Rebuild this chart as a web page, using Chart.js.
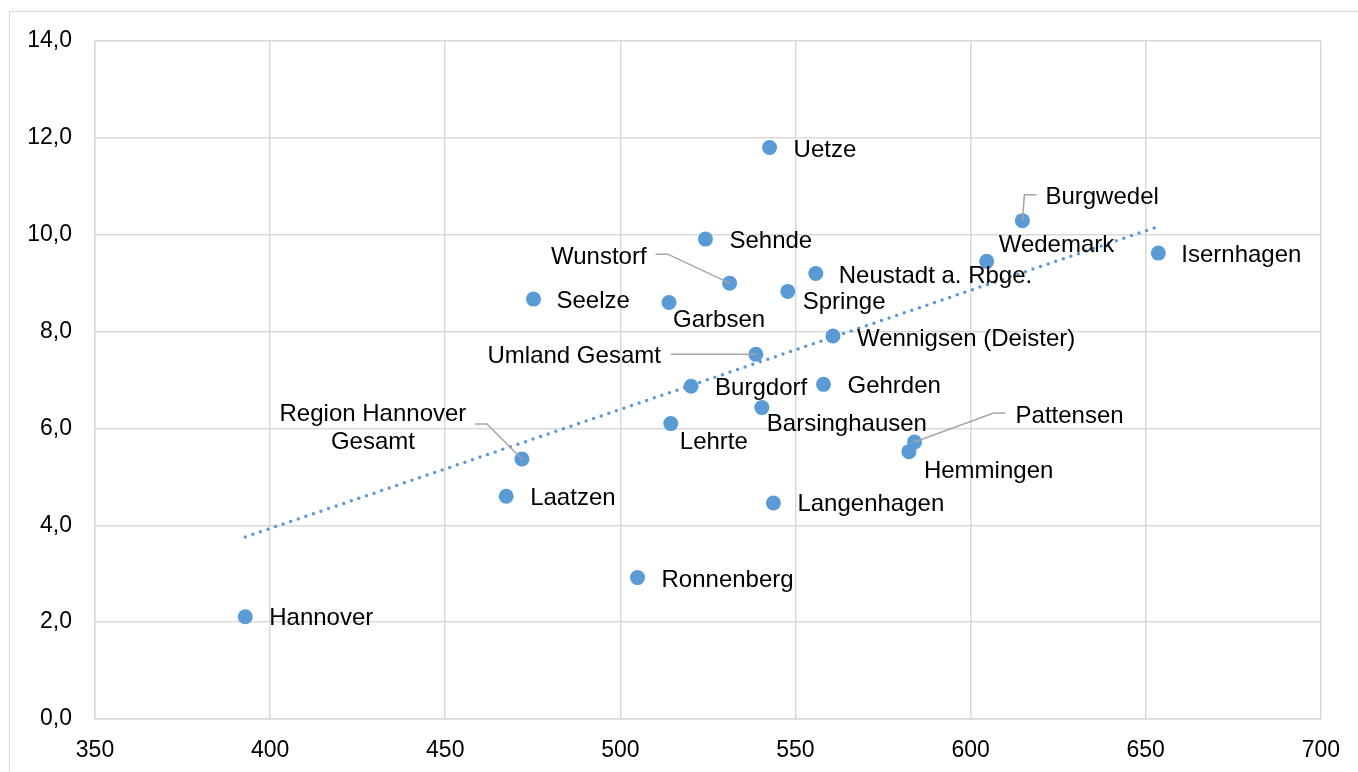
<!DOCTYPE html>
<html>
<head>
<meta charset="utf-8">
<script src="https://cdn.jsdelivr.net/npm/chart.js@4.4.1/dist/chart.umd.min.js"></script>
<style>
  html, body { margin: 0; padding: 0; background: #fff; overflow: hidden; }
  #wrap { position: relative; width: 1358px; height: 772px; }
  #frame { position: absolute; left: 9px; top: 11px; width: 1400px; height: 800px; border: 1px solid #d9d9d9; box-sizing: border-box; }
  canvas { position: absolute; left: 0; top: 0; }
</style>
</head>
<body>
<div id="wrap">
  <div id="frame"></div>
  <canvas id="chart" width="1358" height="772"></canvas>
</div>
<script>
// Gemeinden der Region Hannover
const places = [
  'Hannover', 'Ronnenberg', 'Laatzen', 'Region Hannover Gesamt', 'Langenhagen',
  'Lehrte', 'Burgdorf', 'Barsinghausen', 'Gehrden', 'Umland Gesamt',
  'Wennigsen (Deister)', 'Hemmingen', 'Pattensen', 'Seelze', 'Garbsen',
  'Wunstorf', 'Springe', 'Neustadt a. Rbge.', 'Sehnde', 'Uetze',
  'Wedemark', 'Burgwedel', 'Isernhagen'
];
const xValues = [
  392.9, 504.9, 467.4, 471.9, 543.7,
  514.4, 520.2, 540.4, 558.0, 538.7,
  560.7, 582.4, 584.0, 475.2, 513.9,
  531.2, 547.8, 555.8, 524.3, 542.6,
  604.6, 614.8, 653.6
];
const yValues = [
  2.11, 2.92, 4.60, 5.37, 4.46,
  6.10, 6.87, 6.43, 6.91, 7.53,
  7.91, 5.52, 5.72, 8.67, 8.60,
  9.00, 8.83, 9.20, 9.91, 11.80,
  9.45, 10.29, 9.62
];
// linearer Trend (Endpunkte)
const trendX = [392.9, 653.6];
const trendY = [3.76, 10.17];

// label placement relative to the point (px); leader = polyline back to the point
const placement = {
  'Hannover':               { dx: 24, dy: 0 },
  'Ronnenberg':             { dx: 24, dy: 1 },
  'Laatzen':                { dx: 24, dy: 1 },
  'Region Hannover Gesamt': { dx: -149, dy: -46, align: 'center', wrap: true,
                              leader: [[-47, -35], [-35, -35], [0, 0]] },
  'Langenhagen':            { dx: 24, dy: 0 },
  'Lehrte':                 { dx: 9, dy: 17 },
  'Burgdorf':               { dx: 24, dy: 1 },
  'Barsinghausen':          { dx: 5, dy: 15 },
  'Gehrden':                { dx: 24, dy: 1 },
  'Umland Gesamt':          { dx: -95, dy: 1, align: 'right',
                              leader: [[-85, 0], [0, 0]] },
  'Wennigsen (Deister)':    { dx: 24, dy: 2 },
  'Hemmingen':              { dx: 15, dy: 18 },
  'Pattensen':              { dx: 101, dy: -27,
                              leader: [[91, -29], [79, -29], [0, 0]] },
  'Seelze':                 { dx: 23, dy: 1 },
  'Garbsen':                { dx: 4, dy: 16 },
  'Wunstorf':               { dx: -83, dy: -27, align: 'right',
                              leader: [[-74, -29], [-62, -29], [0, 0]] },
  'Springe':                { dx: 15, dy: 9 },
  'Neustadt a. Rbge.':      { dx: 23, dy: 1 },
  'Sehnde':                 { dx: 24, dy: 1 },
  'Uetze':                  { dx: 24, dy: 1 },
  'Wedemark':               { dx: 12, dy: -17 },
  'Burgwedel':              { dx: 23, dy: -25,
                              leader: [[14, -26], [2, -26], [0, 0]] },
  'Isernhagen':             { dx: 23, dy: 1 },
};

const FONT = "'Liberation Sans', Arial, sans-serif";
const BLUE = '#5b9bd5';
const GRID = '#d9d9d9';

const pointLabels = {
  id: 'pointLabels',
  afterDatasetsDraw(chart) {
    const ctx = chart.ctx;
    const meta = chart.getDatasetMeta(0);
    ctx.save();
    ctx.font = `24px ${FONT}`;
    ctx.fillStyle = '#000';
    ctx.textBaseline = 'middle';
    meta.data.forEach((pt, i) => {
      const p = placement[places[i]];
      if (!p) return;
      if (p.leader) {
        ctx.beginPath();
        ctx.strokeStyle = '#a6a6a6';
        ctx.lineWidth = 1.5;
        p.leader.forEach(([lx, ly], k) => {
          if (k === 0) ctx.moveTo(pt.x + lx, pt.y + ly);
          else ctx.lineTo(pt.x + lx, pt.y + ly);
        });
        ctx.stroke();
      }
      ctx.textAlign = p.align || 'left';
      let lines = [places[i]];
      if (p.wrap) {
        const cut = places[i].lastIndexOf(' ');
        lines = [places[i].slice(0, cut), places[i].slice(cut + 1)];
      }
      // +1.5: canvas 'middle' sits a little high for this font
      lines.forEach((t, k) => ctx.fillText(t, pt.x + p.dx, pt.y + p.dy + 1.5 + k * 27.5));
    });
    ctx.restore();
  }
};

new Chart(document.getElementById('chart').getContext('2d'), {
  type: 'scatter',
  data: {
    datasets: [
      {
        label: 'Gemeinden',
        data: xValues.map((x, i) => ({ x, y: yValues[i] })),
        backgroundColor: BLUE,
        borderColor: BLUE,
        pointRadius: 7.5,
        pointHoverRadius: 7.5,
        borderWidth: 0,
        order: 2,
      },
      {
        type: 'line',
        label: 'Trend',
        data: trendX.map((x, i) => ({ x, y: trendY[i] })),
        borderColor: BLUE,
        borderWidth: 3.5,
        borderDash: [0, 8],
        borderCapStyle: 'round',
        pointRadius: 0,
        fill: false,
        order: 1,
      }
    ]
  },
  options: {
    responsive: false,
    animation: false,
    layout: { padding: { left: 0, top: 41, right: 37, bottom: 0 } },
    plugins: { legend: { display: false }, tooltip: { enabled: false } },
    scales: {
      x: {
        type: 'linear',
        min: 350, max: 700,
        afterFit: s => { s.height = 53; },
        ticks: { stepSize: 50, color: '#000', padding: 18, font: { family: FONT, size: 23 } },
        grid: { color: GRID, lineWidth: 1.5, drawTicks: false },
        border: { color: GRID, width: 1.5 },
      },
      y: {
        min: 0, max: 14,
        afterFit: s => { s.width = 95; },
        ticks: {
          stepSize: 2, color: '#000', padding: 23, font: { family: FONT, size: 23 },
          callback: v => v.toFixed(1).replace('.', ','),
        },
        grid: { color: GRID, lineWidth: 1.5, drawTicks: false },
        border: { color: GRID, width: 1.5 },
      }
    }
  },
  plugins: [pointLabels]
});
</script>
</body>
</html>
